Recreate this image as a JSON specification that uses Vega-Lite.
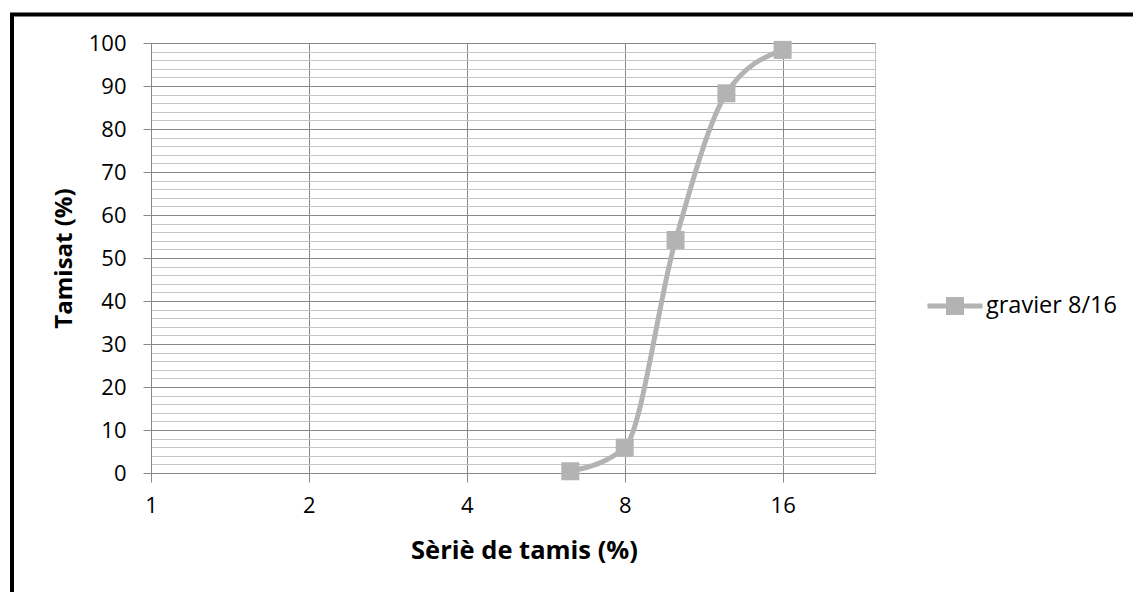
{
  "$schema": "https://vega.github.io/schema/vega-lite/v6.json",
  "width": 724,
  "height": 430,
  "autosize": {"type": "none"},
  "padding": {"left": 151, "top": 43, "right": 258, "bottom": 119},
  "background": "white",
  "config": {"view": {"stroke": "#bfbfbf", "strokeWidth": 1}, "font": "Open Sans"},
  "data": {"values": [
    {"tamis": 6.3, "tamisat": 0.4, "serie": "gravier 8/16"},
    {"tamis": 8, "tamisat": 5.9, "serie": "gravier 8/16"},
    {"tamis": 10, "tamisat": 54.2, "serie": "gravier 8/16"},
    {"tamis": 12.5, "tamisat": 88.3, "serie": "gravier 8/16"},
    {"tamis": 16, "tamisat": 98.4, "serie": "gravier 8/16"}
  ]},
  "layer": [
    {
      "mark": {"type": "line", "interpolate": "monotone", "color": "#b3b3b3", "strokeWidth": 5, "strokeCap": "round"},
      "encoding": {
        "x": {"field": "tamis", "type": "quantitative",
          "scale": {"type": "log", "base": 2, "domain": [1, 24], "nice": false},
          "axis": {"values": [1, 2, 4, 8, 16], "format": "d", "title": "Sèriè de tamis (%)",
            "grid": true, "gridColor": "#888888", "gridWidth": 1,
            "domainColor": "#888888", "tickColor": "#888888", "tickSize": 9,
            "labelFontSize": 22, "labelColor": "black", "labelPadding": 13, "labelFlush": false,
            "titleFontSize": 25.5, "titleFontWeight": "bold", "titleColor": "black", "titlePadding": 22, "titleX": 373}},
        "y": {"field": "tamisat", "type": "quantitative",
          "scale": {"domain": [0, 100], "nice": false},
          "axis": {"values": [0, 10, 20, 30, 40, 50, 60, 70, 80, 90, 100], "title": "Tamisat (%)",
            "grid": true, "gridColor": "#888888", "gridWidth": 1,
            "domainColor": "#888888", "tickColor": "#888888", "tickSize": 8,
            "labelFontSize": 22, "labelColor": "black", "labelPadding": 17,
            "titleFontSize": 24, "titleFontWeight": "bold", "titleColor": "black", "titlePadding": 12}}
      }
    },
    {
      "mark": {"type": "point", "shape": "square", "filled": true, "size": 324, "opacity": 1},
      "encoding": {
        "x": {"field": "tamis", "type": "quantitative",
          "axis": {"orient": "bottom", "offset": -321, "translate": -139, "values": [1], "labels": false, "domain": false, "grid": false,
            "ticks": true, "tickColor": "black", "tickWidth": 4, "tickSize": 579, "title": null}},
        "y": {"field": "tamisat", "type": "quantitative",
          "axis": {"orient": "left", "values": [2, 4, 6, 8, 12, 14, 16, 18, 22, 24, 26, 28, 32, 34, 36, 38, 42, 44, 46, 48, 52, 54, 56, 58, 62, 64, 66, 68, 72, 74, 76, 78, 82, 84, 86, 88, 92, 94, 96, 98],
            "grid": true, "gridColor": "#c4c4c4", "gridWidth": 1, "labels": false, "ticks": false, "domain": false, "title": null}},
        "color": {"field": "serie", "type": "nominal", "scale": {"range": ["#b3b3b3"]},
          "legend": {"orient": "none", "legendX": 786, "legendY": 245, "title": null,
            "symbolType": "M-1.53,-0.14H1.53V0.14H-1.53Z M-0.5,-0.5H0.5V0.5H-0.5Z",
            "symbolSize": 1296, "symbolStrokeWidth": 0, "symbolOpacity": 1,
            "labelFontSize": 23.5, "labelColor": "black", "labelOffset": 13}}
      }
    },
    {
      "mark": {"type": "point", "opacity": 0},
      "encoding": {
        "x": {"field": "tamis", "type": "quantitative", "axis": null},
        "y": {"field": "tamisat", "type": "quantitative",
          "axis": {"orient": "left", "offset": -1010.5, "translate": -28.5, "values": [100], "labels": false, "domain": false, "grid": false,
            "ticks": true, "tickColor": "black", "tickWidth": 4, "tickSize": 1123, "title": null}}
      }
    }
  ],
  "resolve": {"axis": {"x": "independent", "y": "independent"}}
}
